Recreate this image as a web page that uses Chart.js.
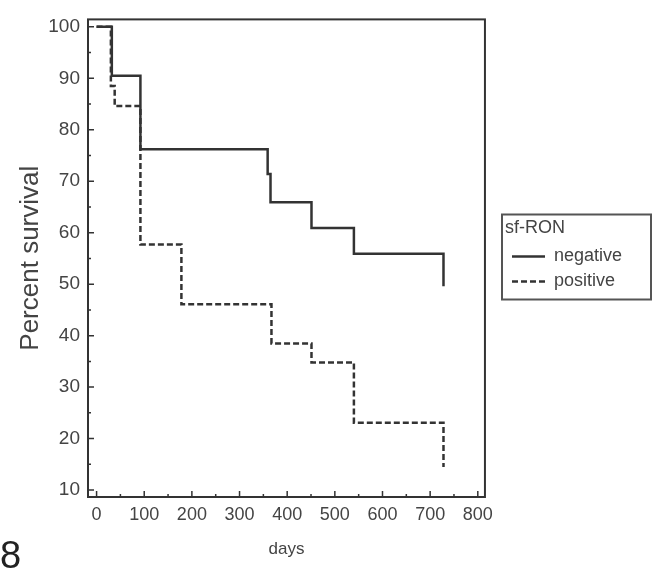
<!DOCTYPE html>
<html>
<head>
<meta charset="utf-8">
<script src="https://cdn.jsdelivr.net/npm/chart.js@4"></script>
<style>
  body { margin: 0; background: #fff; }
  #wrap { position: relative; width: 667px; height: 586px; }
  #fig { position: absolute; left: 0; top: 536px; font: 38px "Liberation Sans", Arial, sans-serif; line-height: 1; color: #222; }
</style>
</head>
<body>
<div id="wrap">
  <canvas id="grafico" width="667" height="586"></canvas>
  <div id="fig">8</div>
</div>
<script>
// Kaplan-Meier steps (day of event, survival % after it)
const negDays = [0, 32, 92, 359, 365, 451, 540, 728];
const negSurv = [100, 90.5, 76.2, 71.4, 65.9, 60.9, 55.9, 49.6];
const posDays = [0, 30, 38, 92, 178, 367, 451, 540, 728];
const posSurv = [100, 88.5, 84.6, 57.7, 46.1, 38.5, 34.8, 23.1, 14.5];

const xTicks = [0, 100, 200, 300, 400, 500, 600, 700, 800];
const xMinor = [50, 150, 250, 350, 450, 550, 650, 750];
const yTicks = [10, 20, 30, 40, 50, 60, 70, 80, 90, 100];
const yMinor = [15, 25, 35, 45, 55, 65, 75, 85, 95];

const fonte = '"Liberation Sans", Arial, sans-serif';
const cor = '#333';
const corTexto = '#444';

function pontos(dias, surv) {
    return dias.map((d, i) => ({ x: d, y: surv[i] }));
}

// frame + inward tick marks, legend border
const moldura = {
    id: 'moldura',
    afterLayout(chart) {
        const lg = chart.legend;
        const dx = 505 - lg.left;
        lg.left += dx;
        lg.right += dx;
    },
    afterDraw(chart) {
        const ctx = chart.ctx;
        const a = chart.chartArea;
        const xs = chart.scales.x;
        const ys = chart.scales.y;
        ctx.save();
        ctx.strokeStyle = cor;
        ctx.lineWidth = 2;
        ctx.strokeRect(a.left, a.top, a.right - a.left, a.bottom - a.top);

        ctx.lineWidth = 1.5;
        ctx.beginPath();
        xTicks.forEach(v => { const p = xs.getPixelForValue(v); ctx.moveTo(p, a.bottom); ctx.lineTo(p, a.bottom - 6); });
        xMinor.forEach(v => { const p = xs.getPixelForValue(v); ctx.moveTo(p, a.bottom); ctx.lineTo(p, a.bottom - 3); });
        yTicks.forEach(v => { const p = ys.getPixelForValue(v); ctx.moveTo(a.left, p); ctx.lineTo(a.left + 6, p); });
        yMinor.forEach(v => { const p = ys.getPixelForValue(v); ctx.moveTo(a.left, p); ctx.lineTo(a.left + 3, p); });
        ctx.stroke();

        const hb = chart.legend.legendHitBoxes;
        if (hb && hb.length) {
            const c0 = hb[0].top + hb[0].height / 2;
            const c1 = hb[1].top + hb[1].height / 2;
            ctx.lineWidth = 2;
            ctx.strokeStyle = '#555';
            ctx.strokeRect(502, c0 - 42, 149, c1 - c0 + 60);
        }
        ctx.restore();
    }
};

const ctx = document.getElementById('grafico').getContext('2d');
new Chart(ctx, {
    type: 'line',
    data: {
        datasets: [{
            label: 'negative',
            data: pontos(negDays, negSurv),
            borderColor: cor,
            borderWidth: 2.5,
            stepped: 'before',
            pointRadius: 0,
            fill: false
        }, {
            label: 'positive',
            data: pontos(posDays, posSurv),
            borderColor: cor,
            borderWidth: 2.5,
            borderDash: [6, 3],
            stepped: 'before',
            pointRadius: 0,
            fill: false
        }]
    },
    options: {
        responsive: false,
        animation: false,
        layout: { padding: { left: 0, top: 17, right: 55, bottom: 0 } },
        plugins: {
            tooltip: { enabled: false },
            legend: {
                position: 'right',
                fullSize: false,
                title: { display: true, text: 'sf-RON', position: 'start', color: corTexto, font: { family: fonte, size: 18 } },
                labels: {
                    color: corTexto,
                    font: { family: fonte, size: 18 },
                    usePointStyle: true,
                    pointStyle: 'line',
                    pointStyleWidth: 33,
                    padding: 7,
                    generateLabels: chart => {
                        const itens = Chart.defaults.plugins.legend.labels.generateLabels(chart);
                        itens.forEach(it => {
                            const ds = chart.data.datasets[it.datasetIndex];
                            it.lineDash = ds.borderDash || [];
                            it.lineWidth = ds.borderWidth;
                            it.strokeStyle = ds.borderColor;
                        });
                        return itens;
                    }
                }
            }
        },
        scales: {
            x: {
                type: 'linear',
                min: -18,
                max: 815,
                afterBuildTicks: s => { s.ticks = xTicks.map(v => ({ value: v })); },
                afterFit: s => { s.height = 89; },
                grid: { display: false, tickLength: 0 },
                border: { display: false },
                ticks: { color: corTexto, font: { family: fonte, size: 18 }, padding: 7, maxRotation: 0 },
                title: { display: true, text: 'days', color: corTexto, font: { family: fonte, size: 17 }, padding: { top: 0, bottom: 26 } }
            },
            y: {
                min: 8.65,
                max: 101.45,
                afterBuildTicks: s => { s.ticks = yTicks.map(v => ({ value: v })); },
                afterFit: s => { s.width = 88; },
                grid: { display: false, tickLength: 0 },
                border: { display: false },
                ticks: { color: corTexto, font: { family: fonte, size: 19 }, padding: 8 },
                title: { display: true, text: 'Percent survival', color: corTexto, font: { family: fonte, size: 26 }, padding: { top: 15, bottom: 0 } }
            }
        }
    },
    plugins: [moldura]
});
</script>
</body>
</html>
